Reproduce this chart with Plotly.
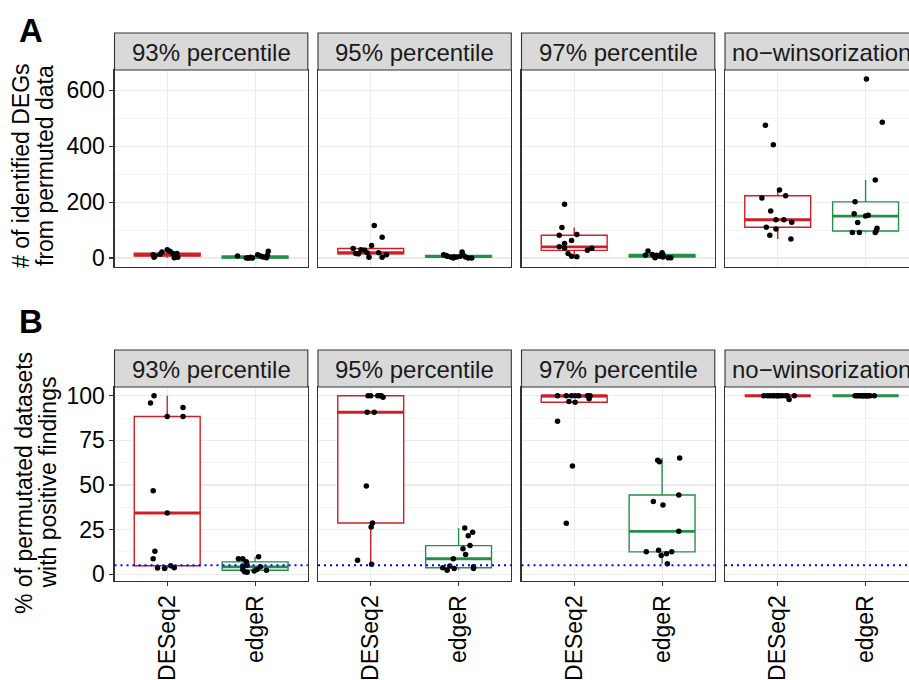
import numpy as np
import plotly.graph_objects as go

# ---------------- data ----------------
methods = ["DESeq2", "edgeR"]
facets = ["93% percentile", "95% percentile", "97% percentile", "no\u2212winsorization"]
method_colors = ["#CD1F27", "#23904A"]
threshold_pct = 5  # dotted reference line (5 %)

# A: number of identified DEGs from permuted data (13 permuted datasets per group)
degs_93_deseq2 = [12, 2.5, 7, 21.5, 30, 24, 17, 10, 1.5, 2.5, 16, 7, 14]
degs_93_edger = [7, 0, 0, 0, 0, 12, 7, 4, 1, 24, 10, 3, 5]
degs_95_deseq2 = [116, 74, 44.5, 34, 30, 27.6, 19, 16, 15, 2.5, 19, 2.5, 12]
degs_95_edger = [12, 6, 4, 0, 4, 6, 21.5, 12, 4, 0, 0, 9, 5]
degs_97_deseq2 = [192, 109, 81.5, 84, 62.5, 51.7, 40, 36, 16, 6, 5, 27.6, 35]
degs_97_edger = [10, 25, 13, 6, 10, 6, 19, 4, 1.5, 1.5, 1.5, 10, 11]
degs_now_deseq2 = [475, 405, 243, 223, 215, 168, 137, 137, 128, 110, 104, 81.5, 68]
degs_now_edger = [640.6, 486, 279, 201, 158, 150, 153, 127, 91, 91, 91, 107, 97]

# B: % of permutated datasets with positive findings
pct_93_deseq2 = [100, 96, 88.4, 93.4, 88.4, 46.8, 34.3, 12.9, 8.6, 3.4, 3.2, 4.7, 3.6]
pct_93_edger = [8.6, 8.6, 6.9, 5, 2.6, 1.3, 1.1, 1.7, 2.6, 9.7, 4.1, 2.2, 4.5]
pct_95_deseq2 = [100, 100, 100, 100, 99.2, 90.8, 90.8, 49.4, 28.7, 26.5, 7.8, 5.6, 100]
pct_95_edger = [25.9, 23.5, 21.6, 16, 14.2, 11, 8.6, 3.6, 2.2, 3.2, 4.1, 3.2, 4.5]
pct_97_deseq2 = [100, 100, 96.8, 100, 100, 96.4, 100, 100, 98.3, 85.8, 60.6, 28.5, 100]
pct_97_edger = [63.8, 63, 65.1, 44.4, 40.8, 38.8, 24, 12.5, 13.4, 10.5, 11.4, 12.5, 5.8]
pct_now_deseq2 = [100, 100, 100, 100, 100, 98, 100, 100, 100, 100, 100, 100, 100]
pct_now_edger = [100, 100, 100, 100, 100, 100, 100, 100, 100, 100, 100, 100, 100]

# horizontal jitter of each point (category units)
jit_a93_deseq2 = [-0.16, -0.15, -0.14, -0.06, 0.0, 0.03, 0.06, 0.09, 0.08, 0.12, 0.11, 0.1, -0.08]
jit_a93_edger = [-0.2, -0.1, -0.08, -0.06, -0.03, 0.03, 0.06, 0.1, 0.13, 0.15, 0.14, -0.05, 0.08]
jit_a95_deseq2 = [0.04, 0.13, 0.01, -0.2, -0.11, -0.07, -0.04, -0.17, -0.14, -0.02, 0.09, 0.13, 0.18]
jit_a95_edger = [-0.17, -0.13, -0.09, -0.06, -0.02, 0.02, 0.04, 0.05, 0.08, 0.11, 0.15, -0.14, -0.05]
jit_a97_deseq2 = [-0.11, -0.14, -0.17, 0.03, -0.03, -0.11, -0.17, -0.11, -0.07, -0.03, 0.03, 0.15, 0.2]
jit_a97_edger = [-0.19, -0.16, -0.11, -0.09, -0.06, -0.03, 0.0, 0.01, 0.07, 0.1, -0.08, -0.02, 0.01]
jit_anow_deseq2 = [-0.14, -0.05, 0.02, 0.09, -0.18, -0.08, -0.02, 0.07, 0.16, -0.13, -0.02, -0.09, 0.15]
jit_anow_edger = [0.01, 0.19, 0.11, -0.12, -0.13, 0.0, 0.03, -0.09, -0.15, -0.07, 0.11, 0.13, 0.12]
jit_b93_deseq2 = [-0.15, -0.19, 0.0, 0.18, 0.18, -0.16, 0.0, -0.14, -0.16, -0.11, -0.03, 0.04, 0.08]
jit_b93_edger = [-0.19, -0.14, -0.1, -0.09, -0.14, -0.12, -0.09, -0.01, 0.02, 0.04, 0.06, 0.13, -0.14]
jit_b95_deseq2 = [-0.03, 0.0, 0.08, 0.11, 0.14, -0.04, 0.04, -0.05, 0.02, 0.005, -0.15, 0.01, 0.12]
jit_b95_edger = [0.07, 0.16, 0.11, 0.13, 0.05, 0.08, -0.06, -0.18, -0.13, -0.05, 0.17, 0.17, -0.1]
jit_b97_deseq2 = [-0.19, -0.09, -0.06, 0.01, 0.05, 0.01, 0.15, 0.18, 0.17, -0.19, -0.02, -0.09, -0.03]
jit_b97_edger = [-0.05, -0.03, 0.2, 0.19, -0.1, 0.01, 0.19, -0.18, -0.04, -0.01, 0.05, 0.11, 0.06]
jit_bnow_deseq2 = [-0.16, -0.12, -0.09, -0.06, -0.01, 0.13, 0.02, 0.05, 0.09, 0.19, 0.0, -0.04, 0.11]
jit_bnow_edger = [-0.12, -0.1, -0.08, -0.06, -0.04, -0.02, 0.0, 0.01, 0.03, 0.05, 0.1, -0.03, 0.02]

y_ticks_a = [0, 200, 400, 600]
y_ticks_b = [0, 25, 50, 75, 100]
title_a = ["# of identified DEGs", "from permuted data"]
title_b = ["% of permutated datasets", "with positive findings"]

# table built from the arrays: rows of (row, facet index, method index, values, jitter)
groups = [
    ("A", 0, 0, degs_93_deseq2, jit_a93_deseq2), ("A", 0, 1, degs_93_edger, jit_a93_edger),
    ("A", 1, 0, degs_95_deseq2, jit_a95_deseq2), ("A", 1, 1, degs_95_edger, jit_a95_edger),
    ("A", 2, 0, degs_97_deseq2, jit_a97_deseq2), ("A", 2, 1, degs_97_edger, jit_a97_edger),
    ("A", 3, 0, degs_now_deseq2, jit_anow_deseq2), ("A", 3, 1, degs_now_edger, jit_anow_edger),
    ("B", 0, 0, pct_93_deseq2, jit_b93_deseq2), ("B", 0, 1, pct_93_edger, jit_b93_edger),
    ("B", 1, 0, pct_95_deseq2, jit_b95_deseq2), ("B", 1, 1, pct_95_edger, jit_b95_edger),
    ("B", 2, 0, pct_97_deseq2, jit_b97_deseq2), ("B", 2, 1, pct_97_edger, jit_b97_edger),
    ("B", 3, 0, pct_now_deseq2, jit_bnow_deseq2), ("B", 3, 1, pct_now_edger, jit_bnow_edger),
]

# ---------------- geometry ----------------
W, H = 909, 680
FONT = "Liberation Sans, Arial, Helvetica, sans-serif"
FS = 23
FS_STRIP = 24
panel_x0 = [114.5, 318.0, 521.5, 725.0]
panel_w = 193.3
rows = {"A": (70.0, 267.0), "B": (387.0, 581.0)}
strip_h = 37.0
GRID = "#EBEBEB"
FRAME = "#333333"
BOXW = 0.75


def px(x):
    return x / W


def py(y):
    return 1 - y / H


def box_stats(v):
    v = np.asarray(v, float)
    q1, med, q3 = np.percentile(v, [25, 50, 75])
    iqr = q3 - q1
    lo = v[v >= q1 - 1.5 * iqr].min()
    hi = v[v <= q3 + 1.5 * iqr].max()
    return q1, med, q3, lo, hi


def yrange(row):
    vals = np.concatenate([np.asarray(g[3], float) for g in groups if g[0] == row])
    lo, hi = vals.min(), vals.max()
    pad = 0.05 * (hi - lo)
    return [lo - pad, hi + pad]


def axis_index(row, f):
    return f + 1 + (4 if row == "B" else 0)


fig = go.Figure()
box_traces, med_traces, pt_traces = [], [], []
for row, f, m, vals, jit in groups:
    n = axis_index(row, f)
    xa = "x" if n == 1 else f"x{n}"
    ya = "y" if n == 1 else f"y{n}"
    pos = m + 1
    q1, med, q3, lo, hi = box_stats(vals)
    col = method_colors[m]
    box_traces.append(go.Box(
        x=[pos], q1=[q1], median=[med], q3=[q3], lowerfence=[lo], upperfence=[hi],
        width=BOXW, fillcolor="white", line=dict(color=col, width=1.4),
        whiskerwidth=0, boxpoints=False, xaxis=xa, yaxis=ya, showlegend=False,
        hoverinfo="skip"))
    med_traces.append(go.Scatter(
        x=[pos - BOXW / 2, pos + BOXW / 2], y=[med, med], mode="lines",
        line=dict(color=col, width=2.9), xaxis=xa, yaxis=ya, showlegend=False,
        hoverinfo="skip"))
    pt_traces.append(go.Scatter(
        x=pos + np.asarray(jit), y=vals, mode="markers",
        marker=dict(color="black", size=5.5, line=dict(width=0)),
        xaxis=xa, yaxis=ya, showlegend=False))
for t in box_traces + med_traces + pt_traces:
    fig.add_trace(t)

layout = dict(
    width=W, height=H, margin=dict(l=0, r=0, t=0, b=0, autoexpand=False),
    paper_bgcolor="white", plot_bgcolor="white", template="none",
    boxmode="overlay", showlegend=False,
    font=dict(family=FONT, size=FS, color="black"),
)
shapes, annots = [], []
for row in ("A", "B"):
    top, bot = rows[row]
    yr = yrange(row)
    ticks = y_ticks_a if row == "A" else y_ticks_b
    minor_dt = (ticks[1] - ticks[0]) / 2
    for f in range(4):
        n = axis_index(row, f)
        x0 = panel_x0[f]
        x1 = x0 + panel_w
        vis_x1 = min(x1, W)
        xr = [0.4, 0.4 + 2.2 * (vis_x1 - x0) / panel_w]
        sfx = "" if n == 1 else str(n)
        layout[f"xaxis{sfx}"] = dict(
            domain=[px(x0), px(vis_x1)], range=xr, anchor=f"y{sfx}", automargin=False,
            tickmode="array", tickvals=[1, 2], ticktext=methods,
            showticklabels=(row == "B"), ticks=("outside" if row == "B" else ""),
            ticklen=4, tickwidth=1.1, tickcolor=FRAME, tickangle=-90,
            tickfont=dict(size=FS, color="black", family=FONT),
            showgrid=True, gridcolor=GRID, gridwidth=1.1, zeroline=False,
            showline=True, mirror=True, linecolor=FRAME, linewidth=1.1,
            fixedrange=True)
        layout[f"yaxis{sfx}"] = dict(
            domain=[py(bot), py(top)], range=yr, anchor=f"x{sfx}", automargin=False,
            tickmode="array", tickvals=ticks,
            showticklabels=(f == 0), ticks=("outside" if f == 0 else ""),
            ticklen=4, tickwidth=1.1, tickcolor=FRAME,
            tickfont=dict(size=FS, color="black", family=FONT),
            showgrid=True, gridcolor=GRID, gridwidth=1.1, zeroline=False,
            minor=dict(dtick=minor_dt, tick0=0, showgrid=True, gridcolor=GRID,
                       gridwidth=0.55, ticks=""),
            showline=True, mirror=(f != 3), linecolor=FRAME, linewidth=1.1,
            fixedrange=True)
        # strip
        shapes.append(dict(type="rect", xref="paper", yref="paper",
                           x0=px(x0), x1=px(x1), y0=py(top), y1=py(top - strip_h),
                           fillcolor="#D9D9D9", line=dict(color=FRAME, width=1.1),
                           layer="above"))
        annots.append(dict(text=facets[f], xref="paper", yref="paper",
                           x=px(x0 + panel_w / 2), y=py(top - strip_h / 2 + 0.8),
                           xanchor="center", yanchor="middle", showarrow=False,
                           font=dict(size=FS_STRIP, color="#1A1A1A", family=FONT)))
        if row == "B":
            shapes.append(dict(type="line", xref=f"x{sfx} domain", yref=f"y{sfx}",
                               x0=0, x1=1, y0=threshold_pct, y1=threshold_pct,
                               line=dict(color="blue", width=1.8, dash="2px,4px"),
                               layer="above"))

# axis titles (two separate lines, rotated)
for lines, centre_y, xs in ((title_a, 166.0, (21.0, 45.0)), (title_b, 483.0, (24.0, 47.5))):
    for txt, xc in zip(lines, xs):
        annots.append(dict(text=txt, xref="paper", yref="paper", x=px(xc), y=py(centre_y),
                           xanchor="center", yanchor="middle", textangle=-90,
                           showarrow=False, font=dict(size=FS, color="black", family=FONT)))

# panel letters
for lab, yc in (("A", 30.5), ("B", 321.0)):
    annots.append(dict(text=f"<b>{lab}</b>", xref="paper", yref="paper", x=px(17.0), y=py(yc),
                       xanchor="left", yanchor="middle", showarrow=False,
                       font=dict(size=33, color="black", family=FONT)))

layout["shapes"] = shapes
layout["annotations"] = annots
fig.update_layout(**layout)
fig.write_html(
    "out.html",
    include_plotlyjs=True,
    config={"displayModeBar": False, "staticPlot": True},
    post_script="document.body.style.margin='0';document.body.style.overflow='hidden';",
)
